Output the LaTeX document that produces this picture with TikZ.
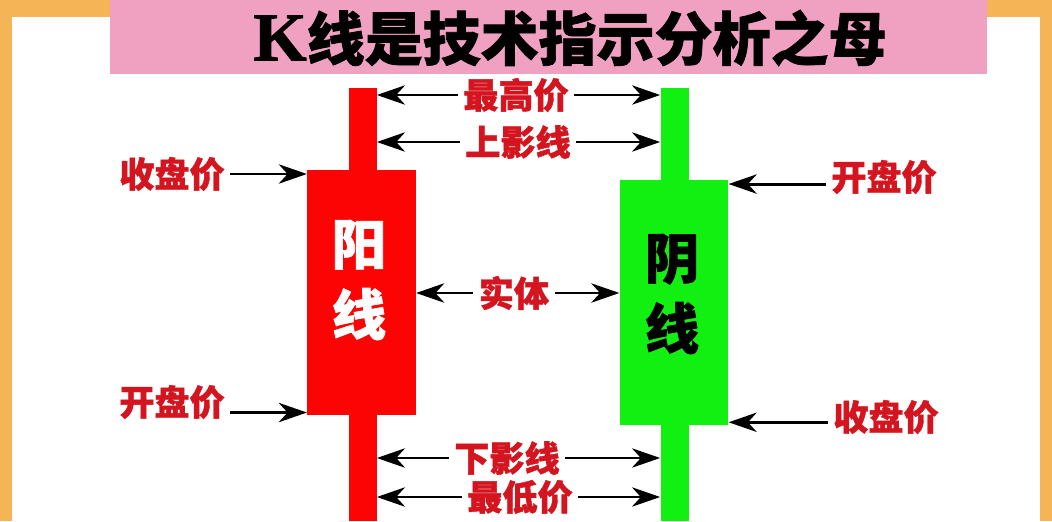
\documentclass[tikz,border=0pt]{standalone}
\usepackage{fontspec}
\newfontfamily\cjk{Noto Sans CJK SC}[BoldFeatures={FakeBold=1.2}]
\newfontfamily\titlek{Liberation Serif}[BoldFeatures={FakeBold=1.2}]
\usetikzlibrary{arrows.meta, positioning, calc}
\definecolor{framebg}{RGB}{245,180,85}
\definecolor{titlebg}{RGB}{240,160,192}
\definecolor{candlered}{RGB}{252,4,4}
\definecolor{candlegreen}{RGB}{18,240,18}
\definecolor{lblred}{RGB}{212,20,30}

\begin{document}
\begin{tikzpicture}[x=0.02cm, y=-0.02cm,
  lbl/.style={text=lblred, font=\cjk\bfseries\fontsize{20}{20}\selectfont, inner sep=3pt},
  arr/.style={-{Stealth[length=16pt, width=11pt, inset=5pt]}, line width=1.7pt},
  wick/.style={minimum width=0.56cm, minimum height=8.66cm, inner sep=0pt},
  body/.style={minimum width=2.17cm, minimum height=4.92cm, inner sep=0pt},
  kanji/.style={font=\cjk\bfseries\fontsize{31}{40}\selectfont, align=center, inner sep=0pt}]
\useasboundingbox (0,0) rectangle (1052,521);

% 枠とタイトル
\fill[framebg] (0,0) rectangle (1052,17);
\fill[framebg] (0,0) rectangle (12,521);
\fill[framebg] (1040,0) rectangle (1052,521);
\fill[titlebg] (110,0) rectangle (987,74);
\node (title) at (570,38) {{\titlek\bfseries\fontsize{39}{39}\selectfont K}{\cjk\bfseries\fontsize{33}{33}\selectfont 线是技术指示分析之母}};

% ローソク足
\node[wick, fill=candlered] (ywick) at (362.5,304.5) {};
\node[body, fill=candlered] (yang) at (361.5,292.5) {};
\node[kanji, text=white] (yangtxt) at (359,280) {阳\\线};
\node[wick, fill=candlegreen] (gwick) at (674.5,304.5) {};
\node[body, fill=candlegreen] (yin) at (674,302.5) {};
\node[kanji, text=black] (yintxt) at (672,294) {阴\\线};

% ラベル
\foreach \n/\x/\y/\t in {gao/516/95/最高价, shang/518/142/上影线, shiti/514/293/实体,
    xia/507/458/下影线, di/520/497/最低价, lclose/172/174/收盘价,
    lopen/172/402/开盘价, ropen/884/177/开盘价, rclose/886/417/收盘价}
  \node[lbl] (\n) at (\x,\y) {\t};

% 矢印
\foreach \n in {gao, shang, xia, di} {
  \draw[arr] (\n) -- (\n -| ywick.east);
  \draw[arr] (\n) -- (\n -| gwick.west);
}
\draw[arr] (shiti) -- (shiti -| yang.east);
\draw[arr] (shiti) -- (shiti -| yin.west);
\draw[arr] (lclose) -- (lclose -| yang.west);
\coordinate (lopenend) at ([yshift=-6pt]lopen.east);
\draw[arr] (lopenend) -- (lopenend -| yang.west);
\coordinate (ropenend) at ([yshift=-4pt]ropen.west);
\draw[arr] (ropenend) -- (ropenend -| yin.east);
\coordinate (rcloseend) at ([yshift=-3pt]rclose.west);
\draw[arr] (rcloseend) -- (rcloseend -| yin.east);

\end{tikzpicture}
\end{document}
